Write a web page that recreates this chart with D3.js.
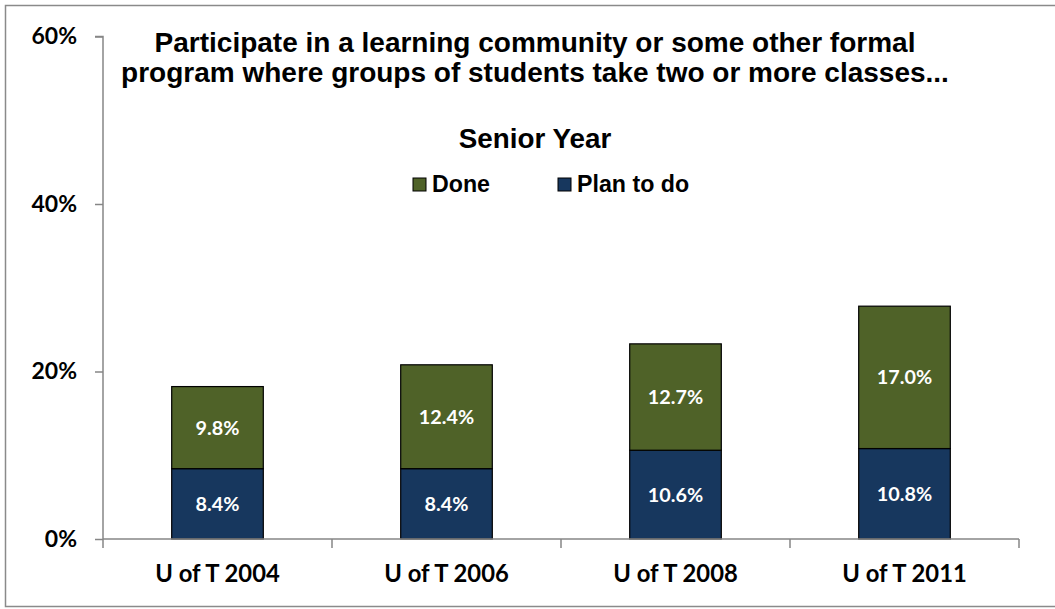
<!DOCTYPE html>
<html>
<head>
<meta charset="utf-8">
<script src="https://cdn.jsdelivr.net/npm/d3@7/dist/d3.min.js"></script>
<style>
  html, body { margin: 0; padding: 0; background: #fff; }
  svg { display: block; }
</style>
</head>
<body>
<svg id="chart" width="1055" height="609"></svg>
<script>
// Survey results: share of seniors who did / plan to join a learning community
const categories = ["U of T 2004", "U of T 2006", "U of T 2008", "U of T 2011"];
const planToDo = [8.4, 8.4, 10.6, 10.8];
const done = [9.8, 12.4, 12.7, 17.0];
const yTicks = [0, 20, 40, 60];
const seriesNames = ["Done", "Plan to do"];
const seriesColors = { "Done": "#4F6228", "Plan to do": "#17375E" };
const titleLines = [
  "Participate in a learning community or some other formal",
  "program where groups of students take two or more classes..."
];
const subtitle = "Senior Year";

const svg = d3.select("#chart");
const W = 1055, H = 609;

// outer chart frame
svg.append("rect")
  .attr("x", 5.5).attr("y", 5.5)
  .attr("width", W + 10).attr("height", 601)
  .attr("fill", "#fff")
  .attr("stroke", "#8a8a8a").attr("stroke-width", 1.5);

const plot = { left: 103, right: 1019, top: 36.5, bottom: 539 };

const x = d3.scaleBand()
  .domain(categories)
  .range([plot.left, plot.right])
  .paddingInner(0.6)
  .paddingOuter(0.3);

const y = d3.scaleLinear()
  .domain([0, 60])
  .range([plot.bottom, plot.top]);

const rows = categories.map((c, i) => ({ cat: c, "Plan to do": planToDo[i], "Done": done[i] }));
const stack = d3.stack().keys(["Plan to do", "Done"])(rows);

const labelFont = "Lato, 'Carlito', 'Liberation Sans', sans-serif";
const titleFont = "'Liberation Sans', Arial, sans-serif";

// bars
const layers = svg.append("g").selectAll("g")
  .data(stack).join("g")
  .attr("fill", d => seriesColors[d.key]);

layers.selectAll("rect")
  .data(d => d.map(p => ({ p, key: d.key })))
  .join("rect")
  .attr("x", d => x(d.p.data.cat))
  .attr("width", x.bandwidth())
  .attr("y", d => y(d.p[1]))
  .attr("height", d => y(d.p[0]) - y(d.p[1]))
  .attr("stroke", "#000")
  .attr("stroke-width", 1.2);

// value labels inside segments
layers.selectAll("text")
  .data(d => d.map(p => ({ p, key: d.key })))
  .join("text")
  .attr("x", d => x(d.p.data.cat) + x.bandwidth() / 2)
  .attr("y", d => (y(d.p[0]) + y(d.p[1])) / 2)
  .attr("dy", "0.36em")
  .attr("text-anchor", "middle")
  .attr("fill", "#fff")
  .attr("font-family", labelFont)
  .attr("font-weight", "bold")
  .attr("font-size", 19.8)
  .text(d => d3.format(".1f")(d.p.data[d.key]) + "%");

// y axis
const yAxis = d3.axisLeft(y)
  .tickValues(yTicks)
  .tickSize(8)
  .tickPadding(18)
  .tickFormat(d => d + "%");

const yg = svg.append("g")
  .attr("transform", `translate(${plot.left},0)`)
  .call(yAxis);
yg.select(".domain").attr("stroke", "#868686").attr("stroke-width", 1.5)
  .attr("d", `M-8,${plot.top}H0V${plot.bottom}`);
yg.selectAll(".tick line").attr("stroke", "#868686").attr("stroke-width", 1.5);
yg.selectAll(".tick text")
  .attr("font-family", labelFont)
  .attr("font-weight", "bold")
  .attr("font-size", 23)
  .attr("fill", "#000");

// x axis with ticks on category boundaries
const xg = svg.append("g")
  .attr("transform", `translate(0,${plot.bottom})`);
xg.append("line")
  .attr("x1", plot.left).attr("x2", plot.right)
  .attr("stroke", "#868686").attr("stroke-width", 1.5);
const boundaries = d3.range(categories.length + 1).map(i => plot.left + i * (plot.right - plot.left) / categories.length);
xg.selectAll("line.bt")
  .data(boundaries).join("line")
  .attr("class", "bt")
  .attr("x1", d => d).attr("x2", d => d)
  .attr("y1", 0).attr("y2", 9)
  .attr("stroke", "#868686").attr("stroke-width", 1.5);
xg.selectAll("text")
  .data(categories).join("text")
  .attr("x", d => x(d) + x.bandwidth() / 2)
  .attr("y", 43)
  .attr("text-anchor", "middle")
  .attr("font-family", labelFont)
  .attr("font-weight", "bold")
  .attr("font-size", 23.8)
  .attr("fill", "#000")
  .text(d => d);

// title
svg.append("g").selectAll("text")
  .data(titleLines).join("text")
  .attr("x", 535)
  .attr("y", (d, i) => 52 + i * 29.5)
  .attr("text-anchor", "middle")
  .attr("font-family", titleFont)
  .attr("font-weight", "bold")
  .attr("font-size", 28)
  .attr("fill", "#000")
  .text(d => d);

svg.append("text")
  .attr("x", 535)
  .attr("y", 148)
  .attr("text-anchor", "middle")
  .attr("font-family", titleFont)
  .attr("font-weight", "bold")
  .attr("font-size", 27.8)
  .attr("fill", "#000")
  .text(subtitle);

// legend
const legendX = [413, 558];
const legend = svg.append("g").selectAll("g")
  .data(seriesNames).join("g")
  .attr("transform", (d, i) => `translate(${legendX[i]},178)`);
legend.append("rect")
  .attr("width", 13).attr("height", 13)
  .attr("fill", d => seriesColors[d])
  .attr("stroke", "#000").attr("stroke-width", 1);
legend.append("text")
  .attr("x", 19).attr("y", 14)
  .attr("font-family", titleFont)
  .attr("font-weight", "bold")
  .attr("font-size", 23.2)
  .attr("fill", "#000")
  .text(d => d);
</script>
</body>
</html>
